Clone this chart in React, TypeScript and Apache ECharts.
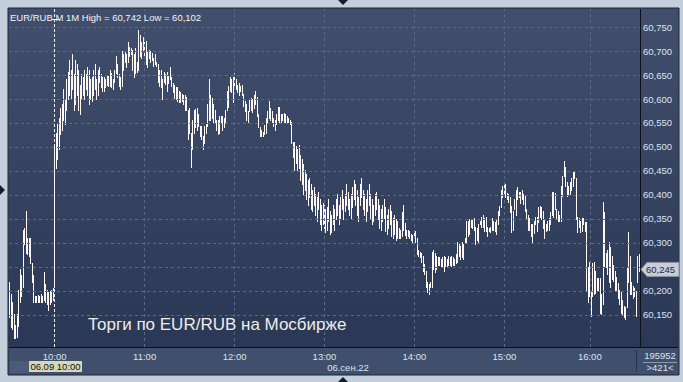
import React, { useEffect, useRef } from "react";
import * as echarts from "echarts";

// ---- categories (one bar per traded minute) ----
const prevDate = "05.09";
const prevStart = "23:20";
const prevCount = 30;
const sessionDate = "06.09";
const sessionStart = "10:00";
const sessionEnd = "16:33";
const missingMinutes = ["15:17", "15:38", "15:51"];
const hourTicks = ["11:00", "12:00", "13:00", "14:00", "15:00", "16:00"];
const hourLabels = ["10:00", "11:00", "12:00", "13:00", "14:00", "15:00", "16:00"];
const cursorTime = "10:00";

// ---- y ticks ----
const yTicks = [60.15, 60.2, 60.25, 60.3, 60.35, 60.4, 60.45, 60.5, 60.55, 60.6, 60.65, 60.7, 60.75];
const yMin = 60.083333;
const yMax = 60.7875;
const lastPrice = 60.245;

// ---- texts ----
const symbolText = "EUR/RUB M 1M";
const captionText = "Торги по EUR/RUB на Мосбирже";
const footerDate = "06.сен.22";
const cursorLabel = "06.09 10:00";
const volumeText = "195952";

// ---- bar highs / lows ----
const prevHigh = [60.217,60.192,60.175,60.150,60.129,60.150,60.202,60.244,60.233,60.327,60.331,60.365,60.310,60.310,60.310,60.258,60.233,60.188,60.188,60.190,60.188,60.192,60.188,60.238,60.213,60.202,60.196,60.198,60.202,60.206];
const prevLow = [60.144,60.123,60.119,60.102,60.102,60.104,60.125,60.175,60.188,60.208,60.296,60.279,60.275,60.271,60.258,60.217,60.177,60.177,60.175,60.177,60.177,60.177,60.177,60.181,60.175,60.171,60.160,60.171,60.175,60.181];

const h10High = [60.500,60.529,60.546,60.560,60.581,60.588,60.619,60.598,60.640,60.656,60.681,60.660,60.692,60.650,60.681,60.671,60.660,60.629,60.650,60.644,60.660,60.650,60.665,60.660,60.640,60.644,60.660,60.671,60.640,60.660,
  60.665,60.650,60.644,60.644,60.640,60.646,60.646,60.660,60.654,60.640,60.660,60.688,60.671,60.650,60.644,60.698,60.692,60.698,60.692,60.717,60.708,60.706,60.702,60.692,60.706,60.677,60.742,60.733,60.717,60.729];
const h10Low = [60.208,60.456,60.473,60.494,60.525,60.535,60.556,60.546,60.577,60.598,60.608,60.598,60.619,60.577,60.588,60.608,60.577,60.567,60.598,60.608,60.598,60.619,60.608,60.588,60.598,60.594,60.608,60.619,60.598,60.608,
  60.635,60.623,60.615,60.615,60.623,60.629,60.625,60.625,60.623,60.619,60.635,60.654,60.644,60.625,60.619,60.625,60.660,60.675,60.665,60.677,60.688,60.692,60.660,60.644,60.654,60.656,60.660,60.688,60.685,60.698];

const h11High = [60.717,60.719,60.696,60.702,60.698,60.694,60.685,60.692,60.677,60.671,60.660,60.660,60.640,60.656,60.650,60.656,60.646,60.665,60.644,60.633,
  60.629,60.623,60.623,60.615,60.613,60.610,60.608,60.608,60.604,60.577,60.581,60.529,60.556,60.577,60.579,60.581,60.567,60.542,60.542,60.521,
  60.542,60.546,60.588,60.640,60.608,60.600,60.588,60.577,60.556,60.556,60.563,60.563,60.563,60.560,60.577,60.615,60.625,60.644,60.640,60.644];
const h11Low = [60.685,60.671,60.665,60.685,60.675,60.680,60.667,60.671,60.667,60.635,60.625,60.623,60.598,60.635,60.630,60.615,60.633,60.640,60.625,60.613,
  60.602,60.598,60.594,60.592,60.592,60.594,60.588,60.577,60.577,60.515,60.529,60.458,60.494,60.529,60.540,60.535,60.542,60.521,60.515,60.494,
  60.508,60.529,60.542,60.556,60.556,60.560,60.552,60.550,60.535,60.525,60.529,60.550,60.535,60.540,60.550,60.577,60.583,60.615,60.613,60.592];

const h12High = [60.654,60.640,60.629,60.633,60.625,60.629,60.610,60.594,60.588,60.573,60.598,60.602,60.598,60.608,60.615,60.604,60.567,60.540,60.535,60.531,
  60.545,60.560,60.573,60.594,60.581,60.573,60.560,60.556,60.567,60.583,60.583,60.567,60.567,60.570,60.567,60.563,60.560,60.556,60.552,60.510,
  60.510,60.500,60.494,60.504,60.483,60.473,60.463,60.452,60.442,60.431,60.435,60.421,60.410,60.415,60.400,60.394,60.406,60.390,60.379,60.383];
const h12Low = [60.625,60.619,60.613,60.608,60.615,60.608,60.585,60.573,60.556,60.550,60.573,60.577,60.571,60.581,60.588,60.563,60.540,60.521,60.521,60.521,
  60.525,60.529,60.552,60.560,60.556,60.550,60.542,60.535,60.546,60.556,60.552,60.552,60.556,60.550,60.552,60.552,60.550,60.546,60.508,60.479,
  60.452,60.465,60.448,60.456,60.431,60.421,60.400,60.410,60.390,60.379,60.394,60.369,60.365,60.379,60.358,60.344,60.369,60.338,60.327,60.338];

const h13High = [60.379,60.369,60.373,60.390,60.365,60.358,60.379,60.369,60.390,60.400,60.379,60.394,60.410,60.390,60.400,60.421,60.406,60.390,60.400,60.415,
  60.431,60.421,60.410,60.394,60.421,60.435,60.410,60.400,60.390,60.410,60.421,60.400,60.390,60.379,60.400,60.406,60.390,60.379,60.369,60.379,
  60.390,60.373,60.358,60.369,60.379,60.365,60.352,60.358,60.348,60.344,60.331,60.327,60.363,60.379,60.340,60.327,60.327,60.323,60.317,60.315];
const h13Low = [60.331,60.321,60.327,60.344,60.317,60.321,60.338,60.327,60.348,60.358,60.338,60.352,60.369,60.348,60.365,60.379,60.369,60.358,60.348,60.373,
  60.390,60.379,60.358,60.344,60.379,60.394,60.369,60.358,60.344,60.365,60.379,60.348,60.338,60.344,60.358,60.369,60.348,60.331,60.327,60.344,
  60.352,60.323,60.317,60.331,60.338,60.313,60.310,60.317,60.306,60.310,60.310,60.310,60.313,60.327,60.315,60.310,60.313,60.310,60.306,60.300];

const h14High = [60.327,60.323,60.310,60.285,60.281,60.279,60.271,60.256,60.240,60.217,60.213,60.217,60.281,60.285,60.279,60.271,60.269,60.269,60.265,60.269,
  60.271,60.269,60.265,60.271,60.269,60.271,60.269,60.265,60.275,60.300,60.296,60.292,60.300,60.296,60.310,60.344,60.344,60.348,60.348,60.348,
  60.352,60.333,60.330,60.338,60.344,60.354,60.358,60.352,60.354,60.333,60.331,60.333,60.352,60.345,60.342,60.348,60.365,60.375,60.410,60.417];
const h14Low = [60.310,60.302,60.275,60.271,60.269,60.260,60.240,60.235,60.208,60.196,60.192,60.208,60.208,60.245,60.238,60.244,60.254,60.254,60.250,60.250,
  60.240,60.250,60.248,60.254,60.254,60.250,60.254,60.254,60.258,60.260,60.271,60.265,60.269,60.265,60.300,60.302,60.313,60.317,60.333,60.331,
  60.327,60.296,60.305,60.302,60.338,60.333,60.333,60.323,60.323,60.313,60.323,60.321,60.327,60.325,60.323,60.317,60.338,60.358,60.373,60.394];

const h15High = [60.425,60.421,60.404,60.400,60.394,60.375,60.365,60.390,60.410,60.415,60.406,60.406,60.410,60.402,60.396,60.369,60.358,60.352,60.338,60.338,
  60.345,60.354,60.354,60.373,60.375,60.373,60.365,60.348,60.338,60.345,60.352,60.363,60.406,60.406,60.404,60.369,60.365,60.358,60.417,60.438,
  60.469,60.458,60.425,60.417,60.425,60.435,60.448,60.448,60.435,60.354,60.352,60.344,60.352,60.352,60.342,60.342,60.248];
const h15Low = [60.396,60.394,60.390,60.385,60.363,60.321,60.327,60.369,60.358,60.390,60.394,60.383,60.390,60.380,60.365,60.348,60.327,60.327,60.313,60.302,
  60.320,60.338,60.323,60.342,60.354,60.348,60.331,60.310,60.323,60.325,60.327,60.338,60.358,60.354,60.369,60.352,60.345,60.344,60.344,60.396,
  60.438,60.417,60.396,60.400,60.400,60.410,60.417,60.435,60.348,60.321,60.333,60.321,60.323,60.338,60.323,60.202,60.175];

const h16High = [60.260,60.196,60.258,60.260,60.240,60.227,60.227,60.227,60.192,60.385,60.363,60.279,60.285,60.300,60.290,60.271,60.254,60.240,60.229,60.215,
  60.202,60.198,60.181,60.167,60.165,60.248,60.321,60.271,60.217,60.210,60.206,60.198,60.271,60.275];
const h16Low = [60.188,60.146,60.188,60.192,60.195,60.198,60.202,60.154,60.150,60.171,60.250,60.248,60.235,60.217,60.208,60.223,60.219,60.202,60.198,60.185,
  60.171,60.154,60.150,60.144,60.140,60.165,60.217,60.192,60.192,60.185,60.188,60.146,60.217,60.240];

const highs = [...prevHigh, ...h10High, ...h11High, ...h12High, ...h13High, ...h14High, ...h15High, ...h16High];
const lows = [...prevLow, ...h10Low, ...h11Low, ...h12Low, ...h13Low, ...h14Low, ...h15Low, ...h16Low];

const toMin = (t: string) => {
  const [h, m] = t.split(":").map(Number);
  return h * 60 + m;
};
const fmtMin = (m: number) =>
  String(Math.floor(m / 60)).padStart(2, "0") + ":" + String(m % 60).padStart(2, "0");

const categories: string[] = [];
for (let k = 0; k < prevCount; k++) categories.push(prevDate + " " + fmtMin(toMin(prevStart) + k));
for (let m = toMin(sessionStart); m <= toMin(sessionEnd); m++) {
  const t = fmtMin(m);
  if (!missingMinutes.includes(t)) categories.push(sessionDate + " " + t);
}

const FONT = '"Liberation Sans", Arial, sans-serif';
const fmtPrice = (v: number) => v.toFixed(3).replace(".", ",");

export default function App() {
  const ref = useRef<HTMLDivElement>(null);
  useEffect(() => {
    if (!ref.current) return;
    const chart = echarts.init(ref.current, null, { renderer: "svg" });
    const barData = categories.map((c, i) => [i, highs[i], lows[i]]);
    const hi = Math.max(...highs);
    const lo = Math.min(...lows);
    const cursorIdx = categories.indexOf(sessionDate + " " + cursorTime);
    // the last-price tag covers the tick label nearest to it
    const labelTicks = yTicks.filter((v) => Math.abs(v - lastPrice) > 0.01);

    chart.setOption({
      animation: false,
      backgroundColor: "transparent",
      grid: { left: 9, right: 43, top: 9, bottom: 35, containLabel: false },
      xAxis: {
        type: "category",
        data: categories,
        boundaryGap: true,
        axisLine: { show: false },
        axisTick: { show: false },
        splitLine: { show: false },
        axisLabel: {
          interval: (idx: number, value: string) =>
            value.startsWith(sessionDate) && hourLabels.includes(value.slice(6)),
          formatter: (v: string) => v.slice(6),
          color: "#dde3ec",
          fontSize: 9.5,
          fontFamily: FONT,
          margin: 4,
        },
      },
      yAxis: {
        type: "value",
        position: "right",
        min: yMin,
        max: yMax,
        axisLine: { show: false },
        axisTick: { show: false },
        splitLine: { show: false },
        axisLabel: {
          customValues: labelTicks,
          formatter: (v: number) => fmtPrice(v),
          color: "#dde3ec",
          fontSize: 9.5,
          fontFamily: FONT,
          margin: 3,
        },
      },
      series: [
        {
          type: "line",
          data: [],
          silent: true,
          z: 1,
          markLine: {
            silent: true,
            symbol: ["none", "none"],
            label: { show: false },
            animation: false,
            data: [
              ...yTicks.map((v) => ({ yAxis: v, lineStyle: { color: "#5a6a86", type: [3, 3], width: 1 } })),
              ...hourTicks.map((t) => ({
                xAxis: categories.indexOf(sessionDate + " " + t),
                lineStyle: { color: "#5a6a86", type: [3, 3], width: 1 },
              })),
            ],
          },
        },
        {
          type: "custom",
          silent: true,
          z: 3,
          clip: true,
          data: barData,
          encode: { x: 0, y: [1, 2] },
          renderItem: (params: any, api: any) => {
            const i = api.value(0);
            const top = api.coord([i, api.value(1)]);
            const bot = api.coord([i, api.value(2)]);
            const x = Math.round(top[0] - 0.5);
            const y1 = Math.floor(top[1]);
            const y2 = Math.max(Math.ceil(bot[1]), y1 + 1);
            return {
              type: "rect",
              shape: { x, y: y1, width: 1, height: y2 - y1 },
              style: { fill: "#fff8f2" },
            };
          },
        },
        {
          type: "line",
          data: [],
          silent: true,
          z: 4,
          markLine: {
            silent: true,
            symbol: ["none", "none"],
            label: { show: false },
            animation: false,
            data: [{ xAxis: cursorIdx, lineStyle: { color: "#f2f2f2", type: [3, 2], width: 1 } }],
          },
        },
      ],
    });

    const py = chart.convertToPixel({ yAxisIndex: 0 }, lastPrice) as number;
    const txt = (text: string, x: number, y: number, opts: any = {}) => ({
      type: "text",
      z: 60,
      silent: true,
      style: {
        text,
        x,
        y,
        fill: opts.fill || "#dde3ec",
        font: opts.font || `9.5px ${FONT}`,
        align: opts.align || "left",
        textAlign: opts.align || "left",
        verticalAlign: "middle",
        textVerticalAlign: "middle",
      },
    });

    chart.setOption({
      graphic: {
        elements: [
          { type: "rect", z: -20, silent: true, shape: { x: 8, y: 8, width: 671, height: 367 }, style: { fill: "#3f4f6c", stroke: "#1b2536", lineWidth: 1 } },
          {
            type: "rect", z: -19, silent: true,
            shape: { x: 9, y: 9, width: 669, height: 338 },
            style: {
              fill: new echarts.graphic.LinearGradient(0, 0, 0, 1, [
                { offset: 0, color: "#414f6c" },
                { offset: 1, color: "#2a3856" },
              ]),
            },
          },
          { type: "rect", z: -18, silent: true, shape: { x: 10, y: 361, width: 19, height: 12 }, style: { fill: "#4b5c7a" } },
          { type: "line", z: 50, silent: true, shape: { x1: 9, y1: 347.5, x2: 678, y2: 347.5 }, style: { stroke: "#0b1019", lineWidth: 1 } },
          { type: "line", z: 50, silent: true, shape: { x1: 640.5, y1: 9, x2: 640.5, y2: 347 }, style: { stroke: "#0b1019", lineWidth: 1 } },
          { type: "line", z: 50, silent: true, shape: { x1: 636.5, y1: 350, x2: 636.5, y2: 372 }, style: { stroke: "#26314a", lineWidth: 1 } },
          { type: "line", z: 50, silent: true, shape: { x1: 643, y1: 362.5, x2: 677, y2: 362.5 }, style: { stroke: "#8a97ad", lineWidth: 1 } },
          { type: "line", z: 50, silent: true, shape: { x1: 52, y1: 19.5, x2: 59, y2: 19.5 }, style: { stroke: "#f2f2f2", lineWidth: 1 } },
          txt(volumeText, 660, 355, { align: "center" }),
          txt(">" + categories.length + "<", 660, 367, { align: "center" }),
          txt(footerDate, 348, 367, { align: "center" }),
          { type: "rect", z: 55, silent: true, shape: { x: 29, y: 361, width: 53, height: 11 }, style: { fill: "#d6d9b9" } },
          txt(cursorLabel, 55.5, 366.5, { align: "center", fill: "#111111" }),
          txt(`${symbolText} High = ${fmtPrice(hi)} Low = ${fmtPrice(lo)}`, 10, 17, { fill: "#f2f4f8" }),
          txt(captionText, 88, 324, { fill: "#f0ece8", font: `17px ${FONT}` }),
          {
            type: "polygon", z: 56, silent: true,
            shape: { points: [[641, py], [647, py - 7], [679, py - 7], [679, py + 7], [647, py + 7]] },
            style: { fill: "#c9cdd4", stroke: "#8a94a4", lineWidth: 1 },
          },
          txt(fmtPrice(lastPrice), 646, py, { fill: "#1b2940" }),
          { type: "polygon", z: 60, silent: true, shape: { points: [[338, 0], [348, 0], [343, 5]] }, style: { fill: "#141c2a" } },
          { type: "polygon", z: 60, silent: true, shape: { points: [[338, 382], [348, 382], [343, 377]] }, style: { fill: "#141c2a" } },
          { type: "polygon", z: 60, silent: true, shape: { points: [[0, 185], [0, 195], [5, 190]] }, style: { fill: "#141c2a" } },
        ],
      },
    });

    return () => chart.dispose();
  }, []);

  return (
    <div
      ref={ref}
      style={{ position: "fixed", left: 0, top: 0, width: 683, height: 382, background: "#c5cfdc" }}
    />
  );
}
